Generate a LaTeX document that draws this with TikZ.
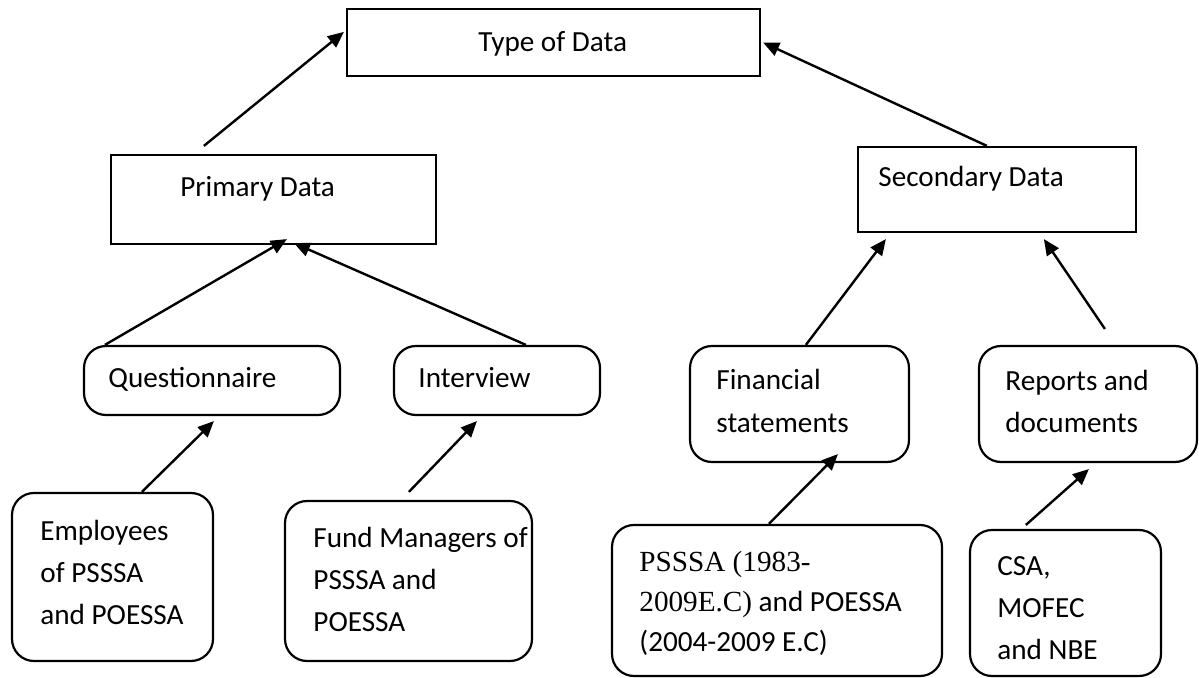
\documentclass[tikz,border=0pt]{standalone}
\usepackage{fontspec}
\setmainfont{Carlito}
\newfontfamily\timesfont{Liberation Serif}
\usetikzlibrary{arrows.meta,calc,fit}

\tikzset{
	sqbox/.style={draw, line width=1.1pt, inner sep=0pt},
	rndbox/.style={sqbox, rounded corners=11pt},
	lbl/.style={anchor=base west, inner sep=0pt, align=left, font=\fontsize{14.6}{21}\selectfont},
	arr/.style={line width=1.2pt, -{Triangle[length=8pt,width=7pt]}}
}

\begin{document}
\begin{tikzpicture}[x=0.5pt, y=-0.5pt]
		%%%%% START %%%%%
		\useasboundingbox (0, 0) rectangle (1199, 678);
		
		% top
		\node[sqbox, fit={(347, 9) (760, 76)}] (type) {};
		\node[lbl] (typetxt) at (478, 52) {Type of Data};
		
		% second row
		\node[sqbox, fit={(111, 155) (436, 244)}] (prim) {};
		\node[lbl] (primtxt) at (180, 197) {Primary Data};
		\node[sqbox, fit={(858, 147) (1136, 232)}] (sec) {};
		\node[lbl] (sectxt) at (878, 187) {Secondary Data};
		
		% third row (base = last line)
		\node[rndbox, fit={(84, 346) (340, 415)}] (quest) {};
		\node[lbl] (questtxt) at (108, 388) {Questionnaire};
		\node[rndbox, fit={(394, 346) (600, 415)}] (inter) {};
		\node[lbl] (intertxt) at (418, 388) {Interview};
		\node[rndbox, fit={(690, 346) (909, 462)}] (fin) {};
		\node[lbl] (fintxt) at (716, 432) {Financial\\statements};
		\node[rndbox, fit={(979, 346) (1197, 462)}] (rep) {};
		\node[lbl] (reptxt) at (1005, 433) {Reports and\\documents};
		
		% bottom row
		\node[rndbox, fit={(12, 493) (213, 661)}] (emp) {};
		\node[lbl] (emptxt) at (40, 624) {Employees\\of PSSSA\\and POESSA};
		\node[rndbox, fit={(285, 501) (532, 661)}] (fund) {};
		\node[lbl] (fundtxt) at (313, 631) {Fund Managers of\\PSSSA and\\POESSA};
		\node[rndbox, fit={(612, 525) (942, 676)}] (psssa) {};
		\node[lbl, font=\fontsize{14.6}{20}\selectfont] (psssatxt) at (639, 651)
			{{\timesfont PSSSA (1983-}\\{\timesfont 2009E.C)} and POESSA\\(2004-2009 E.C)};
		\node[rndbox, fit={(970, 530) (1161, 676)}] (csa) {};
		\node[lbl] (csatxt) at (997, 659) {CSA,\\MOFEC\\and NBE};
		
		% arrows
		\draw[arr] ($(prim.north west)+(94, -8)$) -- ($(type.north west)+(-2, 24)$);
		\draw[arr] ($(sec.north west)+(130, 0)$) -- ($(type.east)+(2, 0)$);
		
		\draw[arr] ($(quest.north west)+(22, 0)$) -- ($(prim.south west)+(177, -6)$);
		\draw[arr] ($(inter.north west)+(133, 0)$) -- ($(prim.south west)+(184, -2)$);
		\draw[arr] ($(fin.north west)+(117, 0)$) -- ($(sec.south west)+(29, 6)$);
		\draw[arr] ($(rep.north west)+(127, -16)$) -- ($(sec.south west)+(187, 6)$);
		
		\draw[arr] ($(emp.north west)+(131, 0)$) -- ($(quest.south west)+(131, 5)$);
		\draw[arr] ($(fund.north west)+(125, -8)$) -- ($(inter.south west)+(84, 5)$);
		\draw[arr] ($(psssa.north west)+(158, 0)$) -- ($(fin.south west)+(149, -9)$);
		\draw[arr] ($(csa.north west)+(57, -4)$) -- ($(rep.south west)+(111, 6)$);
		
		%%%%% END %%%%%
	\end{tikzpicture}
\end{document}
